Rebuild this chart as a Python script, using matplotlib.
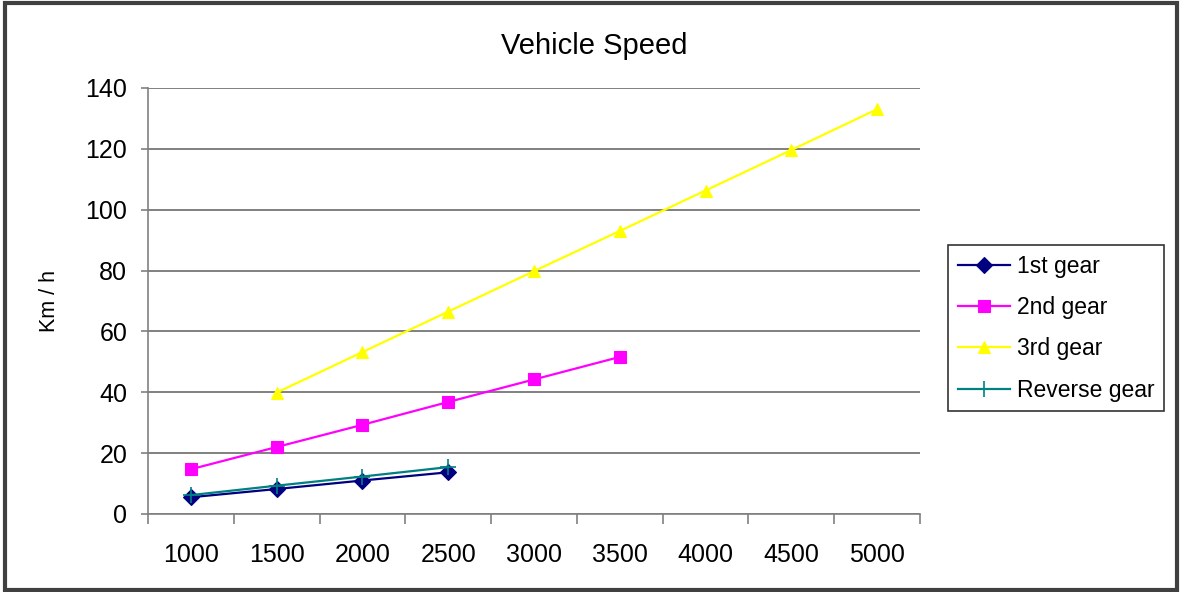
import matplotlib

matplotlib.use("Agg")
import matplotlib.pyplot as plt
import numpy as np
from matplotlib.patches import Rectangle

plt.rcParams["font.family"] = ["Liberation Sans", "DejaVu Sans"]

# ---------------------------------------------------------------------------
# Data
# ---------------------------------------------------------------------------
rpm = ["1000", "1500", "2000", "2500", "3000", "3500", "4000", "4500", "5000"]

gear1 = [5.5, 8.2, 11.0, 13.7, None, None, None, None, None]
gear2 = [14.7, 22.0, 29.3, 36.8, 44.2, 51.6, None, None, None]
gear3 = [None, 39.9, 53.2, 66.5, 79.8, 93.0, 106.3, 119.6, 133.0]
reverse = [6.2, 9.3, 12.3, 15.4, None, None, None, None, None]

series = [
    ("1st gear", gear1, "#000080", "D", 8),
    ("2nd gear", gear2, "#FF00FF", "s", 9),
    ("3rd gear", gear3, "#FFFF00", "^", 9),
    ("Reverse gear", reverse, "#008080", "+", 11),
]

y_ticks = [0, 20, 40, 60, 80, 100, 120, 140]

# ---------------------------------------------------------------------------
# Figure
# ---------------------------------------------------------------------------
fig = plt.figure(figsize=(11.82, 5.92), dpi=100)
ax = fig.add_axes([0.1252, 0.1318, 0.6531, 0.7196])

x = np.arange(len(rpm))
for label, vals, color, marker, ms in series:
    y = np.array([np.nan if v is None else v for v in vals], dtype=float)
    ax.plot(
        x, y, color=color, lw=1.6, marker=marker, markersize=ms,
        markerfacecolor=color, markeredgecolor=color,
        markeredgewidth=1.2 if marker == "+" else 0.8,
        label=label, zorder=3,
    )

ax.set_xlim(-0.5, len(rpm) - 0.5)
ax.set_ylim(0, 140)
ax.set_yticks(y_ticks)
ax.yaxis.grid(True, color="#808080", lw=1.4)
ax.set_axisbelow(True)

# category ticks sit between bins, labels centred in the bins
ax.set_xticks(np.arange(len(rpm) + 1) - 0.5)
ax.set_xticklabels([])
ax.set_xticks(x, minor=True)
ax.set_xticklabels(rpm, minor=True, fontsize=18)
ax.tick_params(axis="x", which="minor", length=0, pad=21)
ax.tick_params(axis="x", which="major", length=7, color="#808080", width=1.2)
ax.tick_params(axis="y", length=5, color="#808080", width=1.2, labelsize=18, pad=10)

for side in ("top", "right"):
    ax.spines[side].set_visible(False)
for side in ("left", "bottom"):
    ax.spines[side].set_color("#808080")
    ax.spines[side].set_linewidth(1.2)

ax.set_ylabel("Km / h", fontsize=15.5, labelpad=18)
fig.text(0.503, 0.922, "Vehicle Speed", ha="center", va="center", fontsize=21)

leg = fig.legend(
    loc="upper left", bbox_to_anchor=(0.802, 0.586), borderaxespad=0,
    fontsize=16.5, frameon=True, fancybox=False, edgecolor="black",
    handlelength=2.3, labelspacing=0.8, borderpad=0.42, handletextpad=0.3,
)
leg.get_frame().set_linewidth(1.2)

# outer chart border
fig.patches.append(
    Rectangle((0.004, 0.003), 0.992, 0.992, transform=fig.transFigure,
              fill=False, edgecolor="#404040", lw=3)
)

fig.savefig("out.png", dpi=100)
